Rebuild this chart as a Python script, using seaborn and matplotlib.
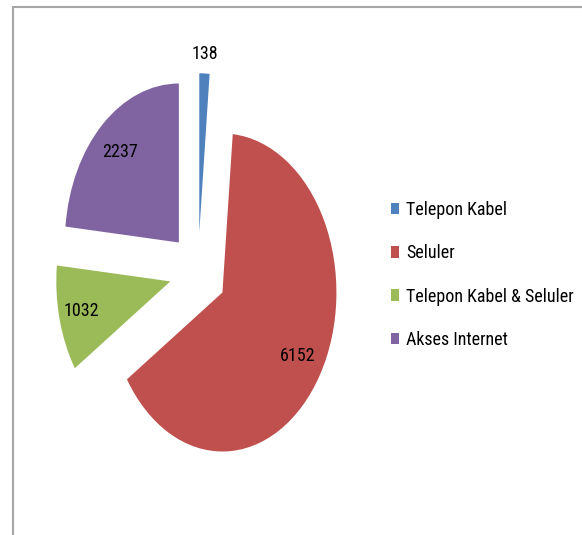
import numpy as np
import matplotlib
matplotlib.use("Agg")
import matplotlib.pyplot as plt
import seaborn as sns
from matplotlib.patches import Rectangle

categories = ["Telepon Kabel", "Seluler", "Telepon Kabel & Seluler", "Akses Internet"]
values = [138, 6152, 1032, 2237]
colors = ["#4F81BD", "#C0504D", "#9BBB59", "#8064A2"]

sns.set_style("white")
plt.rcParams["font.family"] = ["Roboto Condensed", "DejaVu Sans"]

fig = plt.figure(figsize=(5.82, 5.35), dpi=100)
W, H = 582, 535

# axes placed so that the pie is stretched like the original (taller than wide)
cx, cy = 198, 272
sx, sy = 114, 159
xl, yl = 1.7, 1.6
ax = fig.add_axes([(cx - xl * sx) / W, (H - cy - yl * sy) / H,
                   2 * xl * sx / W, 2 * yl * sy / H])

explode = [0.25] * len(values)
wedges, _ = ax.pie(values, colors=colors, startangle=90, counterclock=False,
                   explode=explode, wedgeprops=dict(linewidth=0))
ax.set_aspect("auto")
ax.set_xlim(-xl, xl)
ax.set_ylim(-yl, yl)
ax.axis("off")

label_r = [1.12, 0.77, 0.80, 0.77]
for w, v, r, e in zip(wedges, values, label_r, explode):
    mid = np.deg2rad((w.theta1 + w.theta2) / 2)
    ox, oy = e * np.cos(mid), e * np.sin(mid)
    ax.text(ox + r * np.cos(mid), oy + r * np.sin(mid), str(v),
            ha="center", va="center", fontsize=13, color="black")

leg = fig.legend(wedges, categories, loc="upper left",
                 bbox_to_anchor=(391 / W, 1 - 201 / H),
                 frameon=False, fontsize=13, handlelength=0.47,
                 handleheight=0.6, handletextpad=0.35, labelspacing=1.4,
                 borderaxespad=0, borderpad=0)
for t in leg.get_texts():
    t.set_color("black")

# chart border (cut off by the image on the right and bottom)
fig.patches.append(Rectangle((12.5 / W, -0.1), 1.0, 1 - 7.5 / H + 0.1,
                             transform=fig.transFigure, fill=False,
                             edgecolor="#a6a6a6", linewidth=1.5))

fig.savefig("out.png", dpi=100)
plt.close(fig)
